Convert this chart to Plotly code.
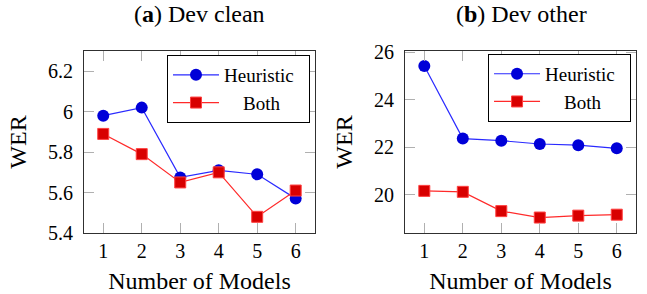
import plotly.graph_objects as go
from plotly.subplots import make_subplots

models = [1, 2, 3, 4, 5, 6]
clean_heuristic = [5.98, 6.02, 5.675, 5.71, 5.69, 5.57]
clean_both = [5.89, 5.79, 5.65, 5.70, 5.48, 5.61]
other_heuristic = [25.42, 22.37, 22.28, 22.14, 22.09, 21.96]
other_both = [20.17, 20.13, 19.32, 19.05, 19.13, 19.17]

y_ticks_clean = [5.4, 5.6, 5.8, 6.0, 6.2]
y_ticktext_clean = ["5.4", "5.6", "5.8", "6", "6.2"]
y_ticks_other = [20, 22, 24, 26]

FONT = "Liberation Serif"
BLUE_LINE = "#2a2aff"
BLUE_MARK = "#0000d8"
RED_LINE = "#ff2a2a"
RED_MARK = "#d80000"
NB = "\u00a0"

fig = make_subplots(rows=1, cols=2, horizontal_spacing=0.1633)

def add_series(col, yh, yb, legend):
    fig.add_trace(go.Scatter(
        x=models, y=yh, name="Heuristic" + NB * 2, mode="lines+markers",
        line=dict(color=BLUE_LINE, width=1.2),
        marker=dict(symbol="circle", size=12, color=BLUE_MARK,
                    line=dict(width=0)),
        legend=legend), row=1, col=col)
    fig.add_trace(go.Scatter(
        x=models, y=yb, name=NB * 4 + "Both", mode="lines+markers",
        line=dict(color=RED_LINE, width=1.2),
        marker=dict(symbol="square", size=11, color=RED_MARK,
                    line=dict(width=1, color="#ff4040")),
        legend=legend), row=1, col=col)

add_series(1, clean_heuristic, clean_both, "legend")
add_series(2, other_heuristic, other_both, "legend2")

axis_common = dict(
    showline=True, linecolor="#303030", linewidth=1.2, mirror="ticks",
    ticks="inside", ticklen=10, tickcolor="#b0b0b0", tickwidth=1.2,
    showgrid=False, zeroline=False, automargin=False,
    tickfont=dict(family=FONT, size=20, color="black"),
)

fig.update_xaxes(axis_common, range=[0.5, 6.5], tickvals=models,
                 title=dict(text="Number of Models",
                            font=dict(family=FONT, size=24, color="black"),
                            standoff=11),
                 ticklabelstandoff=0)
fig.update_yaxes(axis_common,
                 title=dict(text="WER", font=dict(family=FONT, size=24, color="black"),
                            standoff=14),
                 ticklabelstandoff=6)
fig.update_yaxes(range=[5.4, 6.3], tickvals=y_ticks_clean, ticktext=y_ticktext_clean,
                 row=1, col=1)
fig.update_yaxes(range=[18.4, 26.05], tickvals=y_ticks_other, row=1, col=2)

legend_common = dict(
    bgcolor="white", bordercolor="black", borderwidth=1,
    font=dict(family=FONT, size=19, color="black"),
    xanchor="right", yanchor="top", tracegroupgap=0, itemwidth=46,
)
fig.update_layout(
    legend=dict(legend_common, x=0.4094, y=0.978),
    legend2=dict(legend_common, x=0.991, y=0.984),
)

fig.add_annotation(text="(<b>a</b>) Dev clean", xref="paper", yref="paper",
                   x=0.2101, y=1.205, xanchor="center", yanchor="middle",
                   showarrow=False, font=dict(family=FONT, size=24, color="black"))
fig.add_annotation(text="(<b>b</b>) Dev other", xref="paper", yref="paper",
                   x=0.7917, y=1.205, xanchor="center", yanchor="middle",
                   showarrow=False, font=dict(family=FONT, size=24, color="black"))

fig.update_layout(
    width=647, height=294,
    margin=dict(l=84, r=11, t=51, b=61),
    plot_bgcolor="white", paper_bgcolor="white",
    font=dict(family=FONT, color="black"),
)

fig.write_html("out.html", config={"displayModeBar": False},
               post_script="document.body.style.margin='0px';")
